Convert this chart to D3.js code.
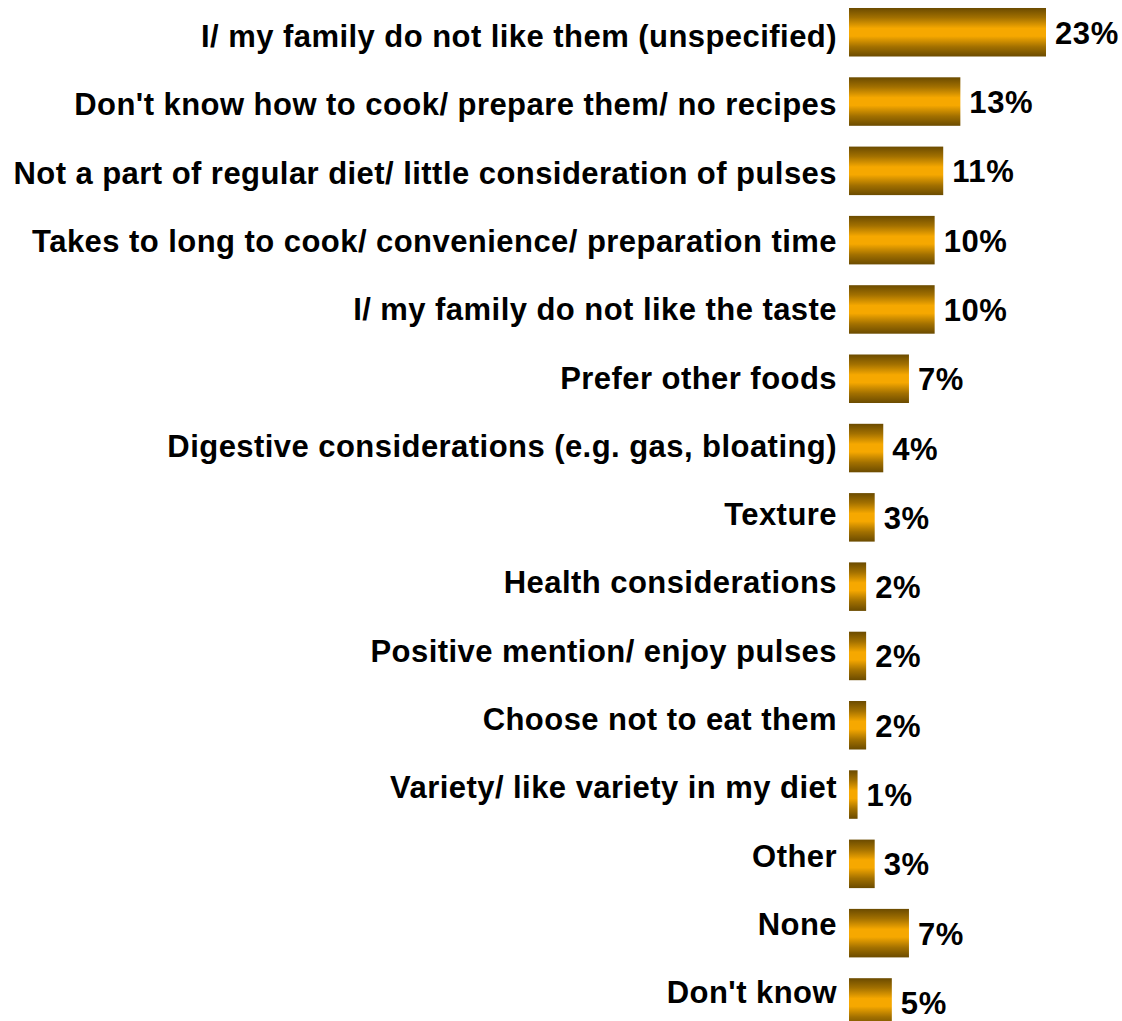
<!DOCTYPE html>
<html>
<head>
<meta charset="utf-8">
<script src="https://cdn.jsdelivr.net/npm/d3@7"></script>
<style>
  html, body { margin: 0; padding: 0; background: #ffffff; }
  svg { display: block; }
  text { font-family: "Liberation Sans", Arial, sans-serif; font-weight: bold; fill: #000; }
</style>
</head>
<body>
<svg id="chart" width="1122" height="1021"></svg>
<script>
// Reasons given for not eating pulses (share of respondents, %)
const categories = [
  "I/ my family do not like them (unspecified)",
  "Don't know how to cook/ prepare them/ no recipes",
  "Not a part of regular diet/ little consideration of pulses",
  "Takes to long to cook/ convenience/ preparation time",
  "I/ my family do not like the taste",
  "Prefer other foods",
  "Digestive considerations (e.g. gas, bloating)",
  "Texture",
  "Health considerations",
  "Positive mention/ enjoy pulses",
  "Choose not to eat them",
  "Variety/ like variety in my diet",
  "Other",
  "None",
  "Don't know"
];
const values = [23, 13, 11, 10, 10, 7, 4, 3, 2, 2, 2, 1, 3, 7, 5];
const valueLabels = values.map(v => v + "%");

const svg = d3.select("#chart");

// horizontal value scale: bars start right of the category labels
const barLeft = 849;
const x = d3.scaleLinear().domain([0, 23]).range([barLeft, barLeft + 197]);

// vertical band scale for the bars
const y = d3.scaleBand()
  .domain(categories)
  .range([-2.4, 1037.1])
  .paddingInner(0.3)
  .paddingOuter(0.15);

// category label baselines sit on their own evenly spaced grid
const yLab = d3.scalePoint()
  .domain(categories)
  .range([47, 1003.2]);

// vertical gold gradient: dark edges, bright amber centre
const defs = svg.append("defs");
const grad = defs.append("linearGradient")
  .attr("id", "barGrad")
  .attr("x1", 0).attr("y1", 0).attr("x2", 0).attr("y2", 1);
[[0, "#6b4b00"], [0.2, "#a27000"], [0.42, "#f6a800"], [0.58, "#f6a800"], [0.8, "#a27000"], [1, "#6b4b00"]]
  .forEach(([o, c]) => grad.append("stop").attr("offset", o).attr("stop-color", c));

const g = svg.append("g");

g.selectAll("rect.bar")
  .data(values)
  .join("rect")
  .attr("class", "bar")
  .attr("x", x(0))
  .attr("y", (d, i) => y(categories[i]))
  .attr("width", d => x(d) - x(0))
  .attr("height", y.bandwidth())
  .attr("fill", "url(#barGrad)");

g.selectAll("text.cat")
  .data(categories)
  .join("text")
  .attr("class", "cat")
  .attr("x", 837)
  .attr("y", d => yLab(d))
  .attr("text-anchor", "end")
  .style("font-size", "31px")
  .style("letter-spacing", "0.45px")
  .text(d => d);

g.selectAll("text.val")
  .data(values)
  .join("text")
  .attr("class", "val")
  .attr("x", d => x(d) + 9)
  .attr("y", (d, i) => y(categories[i]) + y.bandwidth() / 2 + 11.5)
  .style("font-size", "31px")
  .style("letter-spacing", "0.6px")
  .text((d, i) => valueLabels[i]);
</script>
</body>
</html>
